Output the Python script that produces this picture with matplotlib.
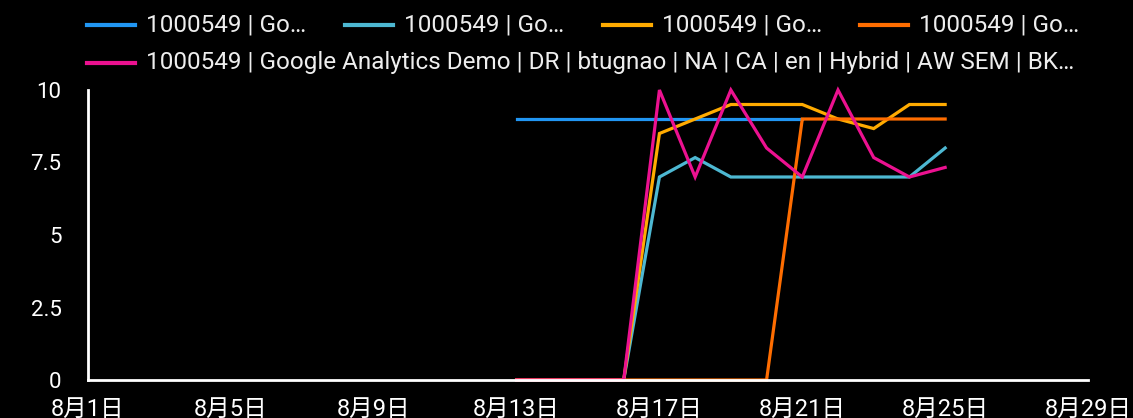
import matplotlib
matplotlib.use("Agg")
import matplotlib.pyplot as plt
import matplotlib.dates as mdates
from matplotlib.lines import Line2D
from matplotlib.ticker import FuncFormatter, FixedLocator
import numpy as np
import pandas as pd

plt.rcParams['font.family'] = ['Roboto', 'Noto Sans CJK JP', 'DejaVu Sans']

# ---- data ----
dates = pd.date_range("2023-08-13", "2023-08-25", freq="D")
blue = [9, 9, 9, 9, 9, 9, 9, 9, 9, np.nan, np.nan, np.nan, np.nan]
cyan = [0, 0, 0, 0, 7, 7.67, 7, 7, 7, 7, 7, 7, 8]
yellow = [0, 0, 0, 0, 8.5, 9, 9.5, 9.5, 9.5, 9, 8.67, 9.5, 9.5]
orange = [0, 0, 0, 0, 0, 0, 0, 0, 9, 9, 9, 9, 9]
magenta = [0, 0, 0, 0, 10, 7, 10, 8, 7, 10, 7.67, 7, 7.33]

short_label = "1000549 | Go…"
long_label = "1000549 | Google Analytics Demo | DR | btugnao | NA | CA | en | Hybrid | AW SEM | BK…"

series = [
    (blue, "#2196f3", short_label),
    (cyan, "#4db8d2", short_label),
    (yellow, "#ffab00", short_label),
    (orange, "#ff6d00", short_label),
    (magenta, "#ec1190", long_label),
]

y_ticks = [0, 2.5, 5, 7.5, 10]
y_tick_labels = ["0", "2.5", "5", "7.5", "10"]

W, H = 1133, 418
fig = plt.figure(figsize=(W / 100, H / 100), dpi=100, facecolor="black")
ax = fig.add_axes([88 / W, 1 - 380 / H, 1000 / W, 290 / H])
ax.set_facecolor("black")

for vals, col, _ in series:
    ax.plot(dates, vals, color=col, lw=2.3, clip_on=False, solid_joinstyle="miter")

ax.set_xlim(pd.Timestamp("2023-08-01"), pd.Timestamp("2023-08-29"))
ax.set_ylim(0, 10)

ax.xaxis.set_major_locator(mdates.DayLocator(bymonthday=[1, 5, 9, 13, 17, 21, 25, 29]))
ax.xaxis.set_major_formatter(
    FuncFormatter(lambda v, p: f"{mdates.num2date(v).month}月{mdates.num2date(v).day}日"))
ax.yaxis.set_major_locator(FixedLocator(y_ticks))
ax.set_yticklabels(y_tick_labels)

ax.tick_params(axis="both", length=0, colors="white")
ax.tick_params(axis="y", pad=19, labelsize=16)
ax.tick_params(axis="x", pad=13, labelsize=17)

for s in ["top", "right"]:
    ax.spines[s].set_visible(False)
for s in ["left", "bottom"]:
    ax.spines[s].set_color("white")
    ax.spines[s].set_linewidth(2)

# ---- legend (drawn by hand to match spacing) ----
legend_pos = [(87, 25), (345, 25), (603, 25), (860, 25), (87, 63)]
for (vals, col, lab), (x0, yy) in zip(series, legend_pos):
    fig.add_artist(Line2D([x0 / W, (x0 + 48) / W], [1 - yy / H, 1 - yy / H],
                          color=col, lw=3, transform=fig.transFigure))
    fig.text((x0 + 59) / W, 1 - yy / H, lab, color="#eeeeee", fontsize=17.5,
             va="center", ha="left")

fig.savefig("out.png", dpi=100, facecolor="black")
